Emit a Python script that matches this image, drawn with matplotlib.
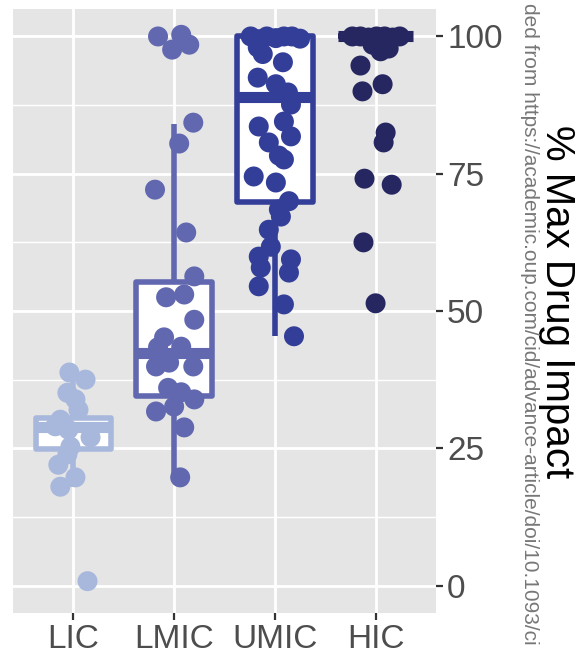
import numpy as np
import matplotlib
matplotlib.use("Agg")
import matplotlib.pyplot as plt

# data
categories = ["LIC", "LMIC", "UMIC", "HIC"]
colors = ["#A8B7DC", "#6168B0", "#333E99", "#262660"]

# box statistics (q1, median, q3, lower whisker, upper whisker)
q1 = [24.8, 34.5, 69.9, 100.0]
med = [28.8, 42.4, 89.0, 100.0]
q3 = [30.6, 55.3, 100.0, 100.0]
whislo = [18.0, 19.7, 45.4, 100.0]
whishi = [38.8, 84.1, 100.0, 100.0]

# individual points (values) and their horizontal jitter (category units)
lic_vals = [38.8, 37.5, 35.1, 33.9, 32.0, 30.2, 29.0, 28.4, 27.0, 25.3, 23.9, 22.0, 19.7, 18.0, 0.8]
lic_jit = [-0.04, 0.12, -0.06, 0.02, 0.05, -0.13, -0.18, -0.05, 0.17, -0.03, -0.06, -0.15, 0.02, -0.13, 0.14]

lmic_vals = [100.0, 100.3, 97.6, 98.5, 84.3, 80.5, 72.1, 64.3, 56.3, 52.5, 53.0, 48.4, 45.2,
             43.4, 43.5, 39.9, 39.9, 40.6, 36.0, 35.2, 33.9, 31.7, 32.6, 28.8, 19.7]
lmic_jit = [-0.16, 0.07, -0.02, 0.15, 0.19, 0.05, -0.19, 0.12, 0.20, -0.08, 0.10, 0.20, -0.10,
            -0.16, 0.07, -0.18, 0.19, -0.05, -0.06, 0.07, 0.20, -0.18, 0.00, 0.10, 0.06]

umic_vals = [100.0, 99.5, 100.0, 99.7, 100.0, 100.0, 99.6, 98.0, 96.8, 95.3, 92.5, 91.3, 89.8,
             87.6, 84.5, 83.6, 81.8, 80.7, 78.3, 77.6, 74.5, 73.4, 70.0, 68.5, 67.2, 64.8,
             61.7, 59.9, 57.9, 59.4, 57.0, 54.5, 51.2, 45.4]
umic_jit = [-0.24, -0.16, -0.08, 0.01, 0.09, 0.17, 0.25, -0.17, -0.12, 0.08, -0.17, 0.01, 0.13,
            0.16, 0.09, -0.16, 0.16, -0.06, 0.04, 0.09, -0.21, 0.01, 0.14, 0.04, 0.06, -0.06,
            -0.04, -0.16, -0.14, 0.16, 0.14, -0.16, 0.09, 0.19]

hic_vals = [100.0, 100.0, 99.8, 100.0, 100.0, 99.8, 100.0, 98.5, 97.3, 97.8, 94.7, 91.3, 90.0,
            82.5, 80.7, 74.1, 73.0, 62.5, 51.4]
hic_jit = [-0.23, -0.15, -0.07, 0.01, 0.09, 0.17, 0.24, -0.03, 0.05, 0.13, -0.15, 0.07, -0.13,
           0.10, 0.08, -0.11, 0.16, -0.12, 0.00]

point_vals = [lic_vals, lmic_vals, umic_vals, hic_vals]
point_jit = [lic_jit, lmic_jit, umic_jit, hic_jit]

yticks = [0, 25, 50, 75, 100]

plt.rcParams["font.family"] = ["Liberation Sans", "DejaVu Sans"]

fig = plt.figure(figsize=(5.77, 6.54), dpi=100)
ax = fig.add_axes([13 / 577, 1 - 613 / 654, (436 - 13) / 577, (613 - 9) / 654])
ax.set_facecolor("#E5E5E5")

for i, cat in enumerate(categories):
    pos = i + 1
    stats = [{"q1": q1[i], "med": med[i], "q3": q3[i],
              "whislo": whislo[i], "whishi": whishi[i], "label": cat}]
    ax.bxp(stats, positions=[pos], widths=0.75, showfliers=False, showcaps=False,
           patch_artist=True,
           boxprops=dict(facecolor="white", edgecolor=colors[i], linewidth=4, joinstyle="round"),
           medianprops=dict(color=colors[i], linewidth=8, solid_capstyle="butt"),
           whiskerprops=dict(color=colors[i], linewidth=4, solid_capstyle="butt"),
           manage_ticks=False, zorder=2)
    xs = pos + np.array(point_jit[i])
    ax.scatter(xs, point_vals[i], s=207, color=colors[i], edgecolors="none", zorder=3)

ax.set_xlim(0.4, 4.6)
ax.set_ylim(-5, 105)
ax.set_xticks([1, 2, 3, 4])
ax.set_xticklabels(categories)
ax.set_yticks(yticks)
ax.set_yticks([12.5, 37.5, 62.5, 87.5], minor=True)
ax.yaxis.tick_right()
ax.tick_params(axis="both", which="major", labelsize=24, labelcolor="#4D4D4D",
               color="#333333", length=5, width=1.6, pad=3)
ax.tick_params(axis="y", which="minor", length=0)
ax.grid(which="major", color="white", linewidth=2.0, zorder=0)
ax.grid(which="minor", axis="y", color="white", linewidth=1.0, zorder=0)
ax.set_axisbelow(True)
for s in ax.spines.values():
    s.set_visible(False)

fig.text(557 / 577, 1 - 302 / 654, "% Max Drug Impact", rotation=270,
         fontsize=29, color="black", ha="center", va="center")
fig.text(529 / 577, 1 - 3 / 654,
         "ded from https://academic.oup.com/cid/advance-article/doi/10.1093/ci",
         rotation=270, fontsize=15, color="#777777", ha="center", va="top")

fig.savefig("out.png", dpi=100)
